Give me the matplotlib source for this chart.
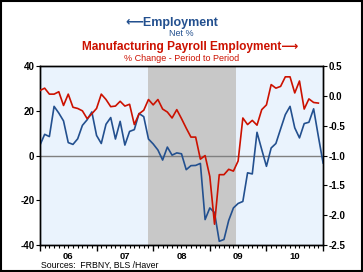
import numpy as np
import matplotlib
matplotlib.use('Agg')
import matplotlib.pyplot as plt
from matplotlib.patches import Rectangle

plt.rcParams['font.family'] = ['Liberation Sans', 'DejaVu Sans']

# Empire State employment index, net %, Jan 2006 - Jan 2011
employment = [4.6, 9.5, 8.5, 22, 19, 15.5, 5.8, 5, 7.5, 13.5, 16, 19.5,
              9, 5.4, 14, 17, 7.4, 15.3, 4.7, 10.8, 11.6, 18.8, 17.4, 7.4,
              5.2, 2.5, -2, 3.8, 0.2, 1.2, 0.8, -6.3, -4.5, -4.4, -3.5, -28.6,
              -23.4, -25.5, -38.3, -37.5, -29, -23.4, -21.4, -20.5, -7.7, -8.2, 10.4, 2.7,
              -4.8, 3.4, 5.4, 11.9, 18.3, 22, 12.4, 7.9, 14.3, 14.9, 20.9, 8.6,
              -3.3]
# Manufacturing payroll employment, % change, Jan 2006 - Dec 2010
payroll = [0.09, 0.13, 0.03, 0.03, 0.07, -0.16, 0.03, -0.19, -0.21, -0.25, -0.38, -0.30,
           -0.21, 0.03, -0.06, -0.18, -0.17, -0.09, -0.17, -0.14, -0.48, -0.30, -0.24, -0.06,
           -0.15, -0.06, -0.22, -0.27, -0.37, -0.23, -0.38, -0.54, -0.69, -0.69, -1.06, -1.0,
           -1.35, -2.15, -1.32, -1.32, -1.23, -1.26, -1.09, -0.37, -0.48, -0.41, -0.49, -0.23,
           -0.15, 0.19, 0.13, 0.16, 0.32, 0.32, 0.05, 0.25, -0.22, -0.05, -0.11, -0.12]
years = [2006, 2007, 2008, 2009, 2010]
year_labels = ['06', '07', '08', '09', '10']
recession = (2007 + 11 / 12, 2009 + 5.5 / 12)

x_emp = 2006 + np.arange(len(employment)) / 12
x_pay = 2006 + np.arange(len(payroll)) / 12

blue = '#23508f'
red = '#cc1100'

fig = plt.figure(figsize=(3.63, 2.72), dpi=100)
ax = fig.add_axes([0.110, 0.099, 0.780, 0.658])
ax.set_facecolor('#eaf3fd')
ax.axvspan(recession[0], recession[1], color='#c8c8c8', lw=0, zorder=0)
ax.axhline(0, color='#808080', lw=1, zorder=1)
ax.plot(x_emp, employment, color=blue, lw=1.2, zorder=3)
ax.set_xlim(2006, 2011)
ax.set_ylim(-40, 40)
ax.set_yticks([-40, -20, 0, 20, 40])
ax.set_yticklabels(['-40', '-20', '0', '20', '40'], fontsize=7, fontweight='bold')

ax2 = ax.twinx()
ax2.plot(x_pay, payroll, color=red, lw=1.2, zorder=3)
ax2.set_ylim(-2.5, 0.5)
ax2.set_yticks([-2.5, -2.0, -1.5, -1.0, -0.5, 0.0, 0.5])
ax2.set_yticklabels(['-2.5', '-2.0', '-1.5', '-1.0', '-0.5', '0.0', '0.5'], fontsize=7, fontweight='bold')

ax.set_xticks(years + [2011])
ax.set_xticklabels([])
ax.set_xticks(np.arange(2006, 2011, 1 / 12), minor=True)
ax.tick_params(axis='x', which='major', length=4, width=1, direction='out')
ax.tick_params(axis='x', which='minor', length=2, width=0.8, direction='out')
for y, lab in zip(years, year_labels):
    ax.text(y + 0.5, -0.066, lab, transform=ax.get_xaxis_transform(), ha='center', va='center',
            fontsize=6.8, fontweight='bold')
ax.tick_params(axis='y', length=3, width=0.8, pad=1)
ax2.tick_params(axis='y', length=3, width=0.8, pad=1)
for a in (ax, ax2):
    for s in a.spines.values():
        s.set_linewidth(1)

fig.text(0.474, 0.915, '\u27f5Employment', color=blue, fontsize=9, fontweight='bold', ha='center', va='center')
fig.text(0.500, 0.877, 'Net %', color=blue, fontsize=6.5, ha='center', va='center')
fig.text(0.525, 0.827, 'Manufacturing Payroll Employment\u27f6', color=red, fontsize=8.6, fontweight='bold',
         ha='center', va='center')
fig.text(0.499, 0.786, '% Change - Period to Period', color=red, fontsize=6.5, ha='center', va='center')
fig.text(0.113, 0.026, 'Sources:  FRBNY, BLS /Haver', fontsize=6.3, ha='left', va='center')

fig.patches.append(Rectangle((0.002, 0.003), 0.995, 0.994, transform=fig.transFigure,
                             fill=False, edgecolor='black', lw=1.5))

fig.savefig('out.png', dpi=100)
